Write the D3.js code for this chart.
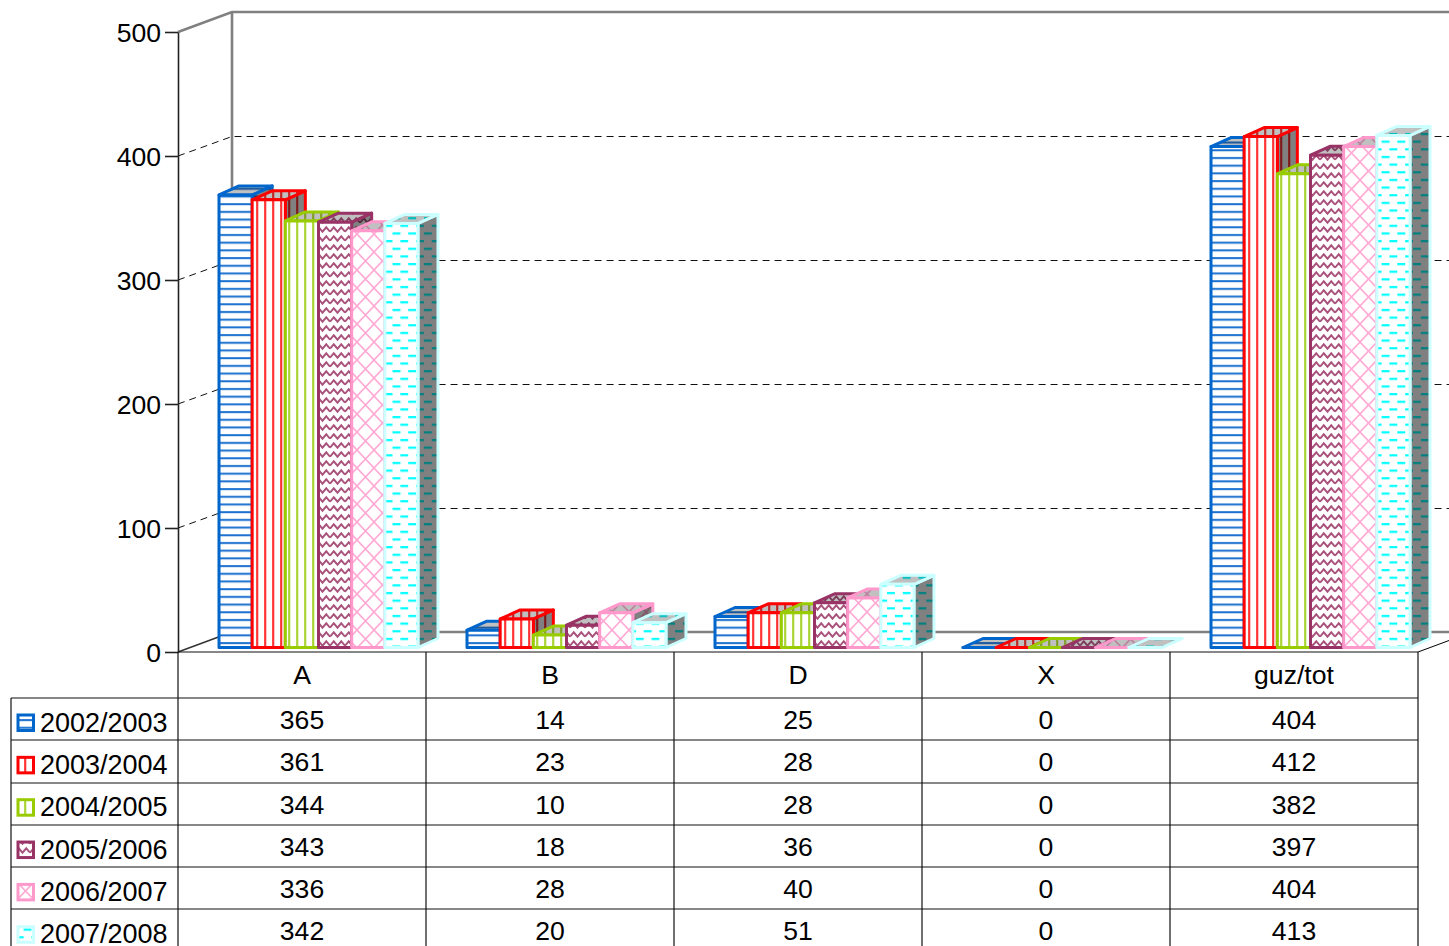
<!DOCTYPE html>
<html>
<head>
<meta charset="utf-8">
<script src="https://cdn.jsdelivr.net/npm/d3@7"></script>
<style>
    html, body { margin: 0; padding: 0; background: #fff; overflow: hidden; }
    text { font-family: "Liberation Sans", sans-serif; font-size: 26.6px; fill: #000; }
    text.legend { font-size: 27px; }
</style>
</head>
<body>
<svg id="chart" width="1449" height="946"></svg>
<script>
const categories = ["A", "B", "D", "X", "guz/tot"];
const seriesNames = ["2002/2003", "2003/2004", "2004/2005", "2005/2006", "2006/2007", "2007/2008"];
const values2002 = [365, 14, 25, 0, 404];
const values2003 = [361, 23, 28, 0, 412];
const values2004 = [344, 10, 28, 0, 382];
const values2005 = [343, 18, 36, 0, 397];
const values2006 = [336, 28, 40, 0, 404];
const values2007 = [342, 20, 51, 0, 413];
const allValues = [values2002, values2003, values2004, values2005, values2006, values2007];
const colors = ["#0066cc", "#ff0000", "#99cc00", "#993366", "#ff99cc", "#ccffff"];
const hatchColors = ["#1a70cf", "#ff3333", "#aad433", "#a8527c", "#ffaad4", "#00ffff"];
const kinds = ["hlines", "vlines", "vlines", "wave", "cross", "dash"];
const yTicks = [0, 100, 200, 300, 400, 500];

const svg = d3.select("#chart");
const defs = svg.append("defs");

// depth of the chart box and of one bar
const wallDx = 54, wallDy = -20;
const barDx = 20, barDy = -9;
const tableLeft = 178, tableRight = 1418;

const y = d3.scaleLinear().domain([0, 500]).range([652, 32]);
const yBar = d3.scaleLinear().domain([0, 500]).range([647.5, 27.5]);
const yWall = d3.scaleLinear().domain([0, 500]).range([632, 12]);
const x = d3.scaleBand().domain(categories).range([tableLeft, tableRight]);
const xBar = d3.scaleBand().domain(seriesNames).range([41, 240]);

// one pattern for each face: front, top, side
function addPattern(id, kind, color, bg) {
    const size = {hlines: [8, 7.7], vlines: [8, 8], wave: [15, 9], cross: [17, 18], dash: [15.7, 15.3]}[kind];
    const p = defs.append("pattern")
        .attr("id", id)
        .attr("patternUnits", "userSpaceOnUse")
        .attr("width", size[0])
        .attr("height", size[1]);
    p.append("rect").attr("width", size[0]).attr("height", size[1]).attr("fill", bg);
    const line = (d, w) => p.append("path").attr("d", d).attr("fill", "none").attr("stroke", color).attr("stroke-width", w);
    if (kind === "hlines") line("M0,4H8", 2);
    if (kind === "vlines") line("M1.2,0V8", 2.2);
    if (kind === "wave") line("M0,6.7L3.75,2.3L7.5,6.7L11.25,2.3L15,6.7", 1.9);
    if (kind === "cross") line("M0,0L17,18M17,0L0,18", 1.6);
    if (kind === "dash") {
        line("M0,4H8", 2.2);
        line("M7.85,11.65H15.7", 2.2);
    }
}

function darker(color, k) {
    const c = d3.rgb(color);
    return d3.rgb(c.r * k, c.g * k, c.b * k).formatHex();
}

seriesNames.forEach((name, i) => {
    addPattern(`front${i}`, kinds[i], hatchColors[i], "#ffffff");
    addPattern(`top${i}`, kinds[i], darker(hatchColors[i], 0.75), "#c0c0c0");
    addPattern(`side${i}`, kinds[i], darker(hatchColors[i], 0.5), "#808080");
});

// box walls
const wall = svg.append("g").attr("fill", "none").attr("stroke", "#808080").attr("stroke-width", 2.6);
const right = tableRight + 100;
wall.append("path").attr("d", `M${tableLeft},${y(500)}L${tableLeft + wallDx},${yWall(500)}H1449`);
wall.append("path").attr("d", `M${tableLeft + wallDx},${yWall(500)}V${yWall(0)}H1449`);

const grid = svg.append("g").attr("fill", "none").attr("stroke", "#111").attr("stroke-dasharray", "7,5");
grid.selectAll("path")
    .data(yTicks.filter(d => d > 0 && d < 500))
    .join("path")
    .attr("d", d => `M${tableLeft},${y(d)}L${tableLeft + wallDx},${yWall(d) + 0.5}H${right}`);

svg.append("path")
    .attr("d", `M${tableLeft},${y(0)}L${tableLeft + wallDx},${yWall(0)}`)
    .attr("fill", "none").attr("stroke", "#333").attr("stroke-width", 1.5);
svg.append("path")
    .attr("d", `M${tableRight},${y(0)}L${tableRight + wallDx},${yWall(0)}`)
    .attr("fill", "none").attr("stroke", "#000");

// bars, later series paint over earlier ones
const bars = svg.append("g")
    .attr("stroke-width", 3)
    .attr("stroke-linejoin", "round");

categories.forEach((cat, c) => {
    seriesNames.forEach((name, i) => {
        const v = allValues[i][c];
        const x0 = x(cat) + xBar(name);
        const x1 = x0 + xBar.bandwidth();
        const top = yBar(v);
        const base = yBar(0);
        const g = bars.append("g").attr("stroke", colors[i]);
        g.append("path")
            .attr("fill", `url(#side${i})`)
            .attr("d", `M${x1},${top}L${x1 + barDx},${top + barDy}V${base + barDy}L${x1},${base}Z`);
        g.append("path")
            .attr("fill", `url(#top${i})`)
            .attr("d", `M${x0},${top}L${x0 + barDx},${top + barDy}H${x1 + barDx}L${x1},${top}Z`);
        g.append("path")
            .attr("fill", `url(#front${i})`)
            .attr("d", `M${x0},${top}H${x1}V${base}H${x0}Z`);
    });
});

// value axis
const axis = svg.append("g")
    .attr("transform", `translate(${tableLeft},0)`)
    .call(d3.axisLeft(y).tickValues(yTicks).tickSize(13).tickSizeOuter(0).tickPadding(4));
axis.selectAll("path, line").attr("stroke", "#222").attr("stroke-width", 1.6);
axis.selectAll("text").attr("dy", "0.36em");
axis.attr("font-size", null).attr("font-family", null);

// data table
const rowLines = [698, 740, 783, 825, 867, 909];
const table = svg.append("g").attr("stroke", "#111").attr("stroke-width", 1.2);
table.append("line").attr("x1", tableLeft).attr("x2", tableRight).attr("y1", y(0)).attr("y2", y(0));
rowLines.forEach(r => {
    table.append("line").attr("x1", 11).attr("x2", tableRight).attr("y1", r).attr("y2", r);
});
table.append("line").attr("x1", 11).attr("x2", 11).attr("y1", rowLines[0]).attr("y2", 946);
categories.forEach(cat => {
    table.append("line").attr("x1", x(cat)).attr("x2", x(cat)).attr("y1", y(0)).attr("y2", 946);
});
table.append("line").attr("x1", tableRight).attr("x2", tableRight).attr("y1", y(0)).attr("y2", 946);

const labels = svg.append("g").attr("text-anchor", "middle");
labels.selectAll("text.head")
    .data(categories)
    .join("text")
    .attr("class", "head")
    .attr("x", d => x(d) + x.bandwidth() / 2)
    .attr("y", 684)
    .text(d => d);

seriesNames.forEach((name, i) => {
    labels.selectAll(`text.row${i}`)
        .data(allValues[i])
        .join("text")
        .attr("class", `row${i}`)
        .attr("x", (d, c) => x(categories[c]) + x.bandwidth() / 2)
        .attr("y", rowLines[i] + 31)
        .text(d => d);

    const legendY = 731.5 + 42.35 * i;
    svg.append("rect")
        .attr("x", 18).attr("y", legendY - 16.5)
        .attr("width", 15.5).attr("height", 15.5)
        .attr("fill", `url(#front${i})`)
        .attr("stroke", colors[i]).attr("stroke-width", 3);
    svg.append("text")
        .attr("class", "legend")
        .attr("x", 40).attr("y", legendY)
        .text(name);
});
</script>
</body>
</html>
